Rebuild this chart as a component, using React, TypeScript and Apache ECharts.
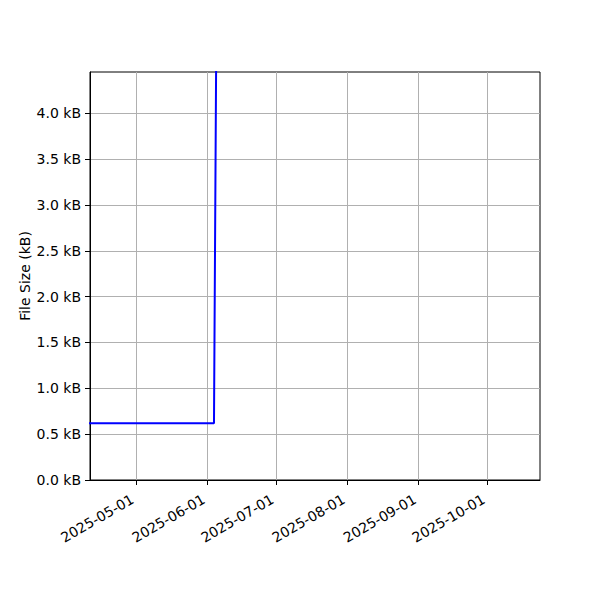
import React, { useEffect, useRef } from "react";
import * as echarts from "echarts";

const dates = ["2025-03-20", "2025-06-04", "2025-06-05"];
const sizesKB = [0.62, 0.62, 4.8];
const xTickDates = ["2025-05-01", "2025-06-01", "2025-07-01", "2025-08-01", "2025-09-01", "2025-10-01"];
const yTicks = [0, 0.5, 1.0, 1.5, 2.0, 2.5, 3.0, 3.5, 4.0];
const xMin = "2025-04-11";
const xMax = "2025-10-24";
const yMax = 4.45;

const ts = (d: string) => Date.parse(d + "T00:00:00Z");

export default function App() {
  const ref = useRef<HTMLDivElement>(null);
  useEffect(() => {
    if (!ref.current) return;
    const chart = echarts.init(ref.current, undefined, { renderer: "svg" });
    const xTicks = xTickDates.map(ts);
    const font = "DejaVu Sans";
    chart.setOption({
      animation: false,
      backgroundColor: "#ffffff",
      grid: {
        left: 82,
        right: 68,
        top: 64,
        bottom: 128,
        outerBoundsMode: "none",
        containLabel: false,
        show: true,
        borderColor: "#000000",
        borderWidth: 1,
        backgroundColor: "transparent",
      },
      xAxis: {
        type: "value",
        min: ts(xMin),
        max: ts(xMax),
        axisLine: { show: true, lineStyle: { color: "#000", width: 1 } },
        axisTick: { show: true, length: 5, inside: false, customValues: xTicks, lineStyle: { color: "#000", width: 1 } },
        axisLabel: {
          customValues: xTicks,
          rotate: 30,
          margin: 16,
          padding: [0, 4, 0, 0],
          color: "#000",
          fontFamily: font,
          fontSize: 14,
          formatter: (v: number) => new Date(v).toISOString().slice(0, 10),
        },
        splitLine: { show: true, customValues: xTicks, lineStyle: { color: "#b0b0b0", width: 1 } },
      },
      yAxis: {
        type: "value",
        min: 0,
        max: yMax,
        name: "File Size (kB)",
        nameLocation: "middle",
        nameGap: 58,
        nameMoveOverlap: false,
        nameTextStyle: { color: "#000", fontFamily: font, fontSize: 14 },
        axisLine: { show: true, lineStyle: { color: "#000", width: 1 } },
        axisTick: { show: true, length: 5, inside: false, customValues: yTicks, lineStyle: { color: "#000", width: 1 } },
        axisLabel: {
          customValues: yTicks,
          margin: 9,
          color: "#000",
          fontFamily: font,
          fontSize: 14,
          formatter: (v: number) => v.toFixed(1) + " kB",
        },
        splitLine: { show: true, customValues: yTicks, lineStyle: { color: "#b0b0b0", width: 1 } },
      },
      series: [
        {
          type: "line",
          data: dates.map((d, i) => [ts(d), sizesKB[i]]),
          showSymbol: false,
          symbol: "none",
          clip: true,
          lineStyle: { color: "#0000ff", width: 2 },
        },
      ],
    });
    return () => chart.dispose();
  }, []);
  return <div ref={ref} style={{ width: 600, height: 600 }} />;
}
